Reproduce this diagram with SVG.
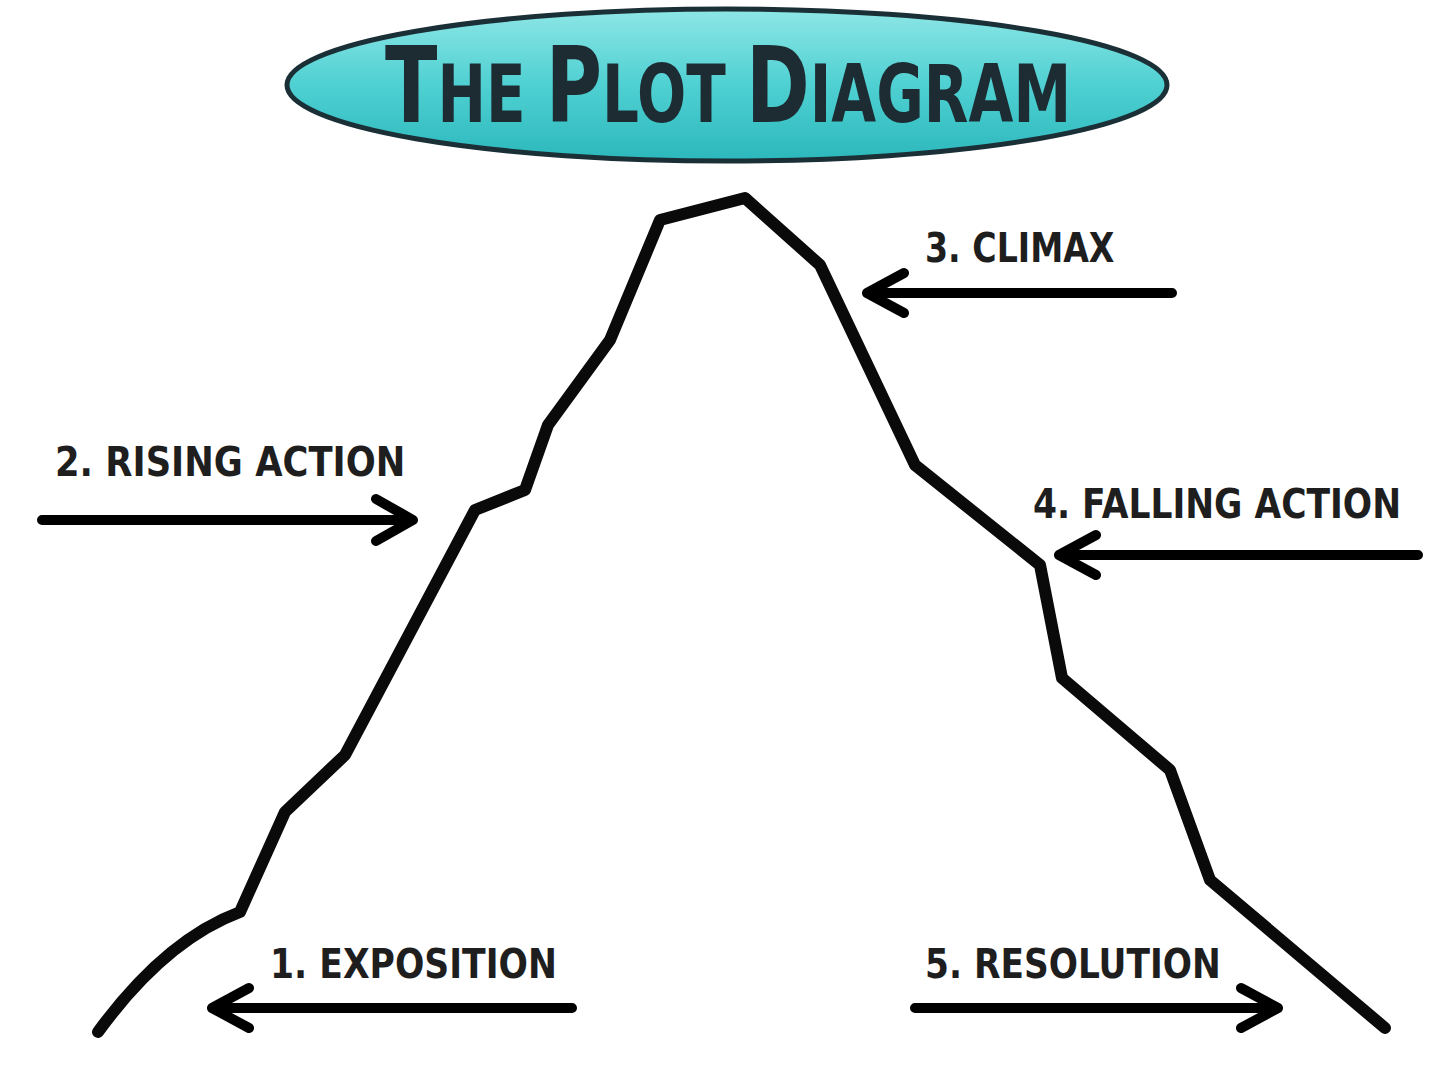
<svg xmlns="http://www.w3.org/2000/svg" width="1440" height="1078" viewBox="0 0 1440 1078">
<defs>
<linearGradient id="tg" x1="0" y1="0" x2="0" y2="1">
<stop offset="0" stop-color="#8ee6e6"/>
<stop offset="0.5" stop-color="#4fd0d2"/>
<stop offset="1" stop-color="#2cb8bc"/>
</linearGradient>
</defs>
<style>
.lbl{font-family:"DejaVu Sans","Liberation Sans",sans-serif;font-weight:bold;font-size:41px;fill:#1e1e1e;}
.conn{fill:none;stroke:#000;stroke-width:10;stroke-linecap:round;stroke-linejoin:round;}
.mtn{fill:none;stroke:#0a0a0a;stroke-width:12;stroke-linecap:round;stroke-linejoin:round;}
.ttl{font-family:"DejaVu Sans","Liberation Sans",sans-serif;font-weight:bold;fill:#1d2c33;}
</style>
<rect width="1440" height="1078" fill="#fff"/>
<g id="title">
<ellipse cx="727" cy="85" rx="440" ry="76" fill="url(#tg)" stroke="#1a3036" stroke-width="5"/>
<text class="ttl" transform="translate(385,122) scale(0.725,1)" x="0" y="0"><tspan font-size="106">T</tspan><tspan font-size="80">HE </tspan><tspan font-size="106">P</tspan><tspan font-size="80">LOT </tspan><tspan font-size="106">D</tspan><tspan font-size="80">IAGRAM</tspan></text>
</g>
<g id="mountain">
<path class="mtn" d="M98 1032 Q165 940 240 912 L285 812 L345 755 L475 510 L525 490 L548 425 L610 340 L660 220 L745 198 L820 265 L915 465 L1040 565 L1062 678 L1170 770 L1210 880 L1385 1028"/>
</g>
<g id="connectors">
<path class="conn" d="M42 520 H410 M376 499 L413 520 L376 541"/>
<path class="conn" d="M1172 293 H870 M904 273 L867 293 L904 313"/>
<path class="conn" d="M1418 555 H1062 M1096 535 L1059 555 L1096 575"/>
<path class="conn" d="M572 1008 H215 M249 988 L212 1008 L249 1028"/>
<path class="conn" d="M915 1008 H1275 M1241 988 L1278 1008 L1241 1028"/>
</g>
<g id="climax"><text class="lbl" transform="translate(925,262) scale(0.81,1)" x="0" y="0">3. CLIMAX</text></g>
<g id="rising-action"><text class="lbl" transform="translate(55,476) scale(0.862,1)" x="0" y="0">2. RISING ACTION</text></g>
<g id="falling-action"><text class="lbl" transform="translate(1033,518) scale(0.842,1)" x="0" y="0">4. FALLING ACTION</text></g>
<g id="exposition"><text class="lbl" transform="translate(270,978) scale(0.844,1)" x="0" y="0">1. EXPOSITION</text></g>
<g id="resolution"><text class="lbl" transform="translate(925,978) scale(0.839,1)" x="0" y="0">5. RESOLUTION</text></g>
</svg>
